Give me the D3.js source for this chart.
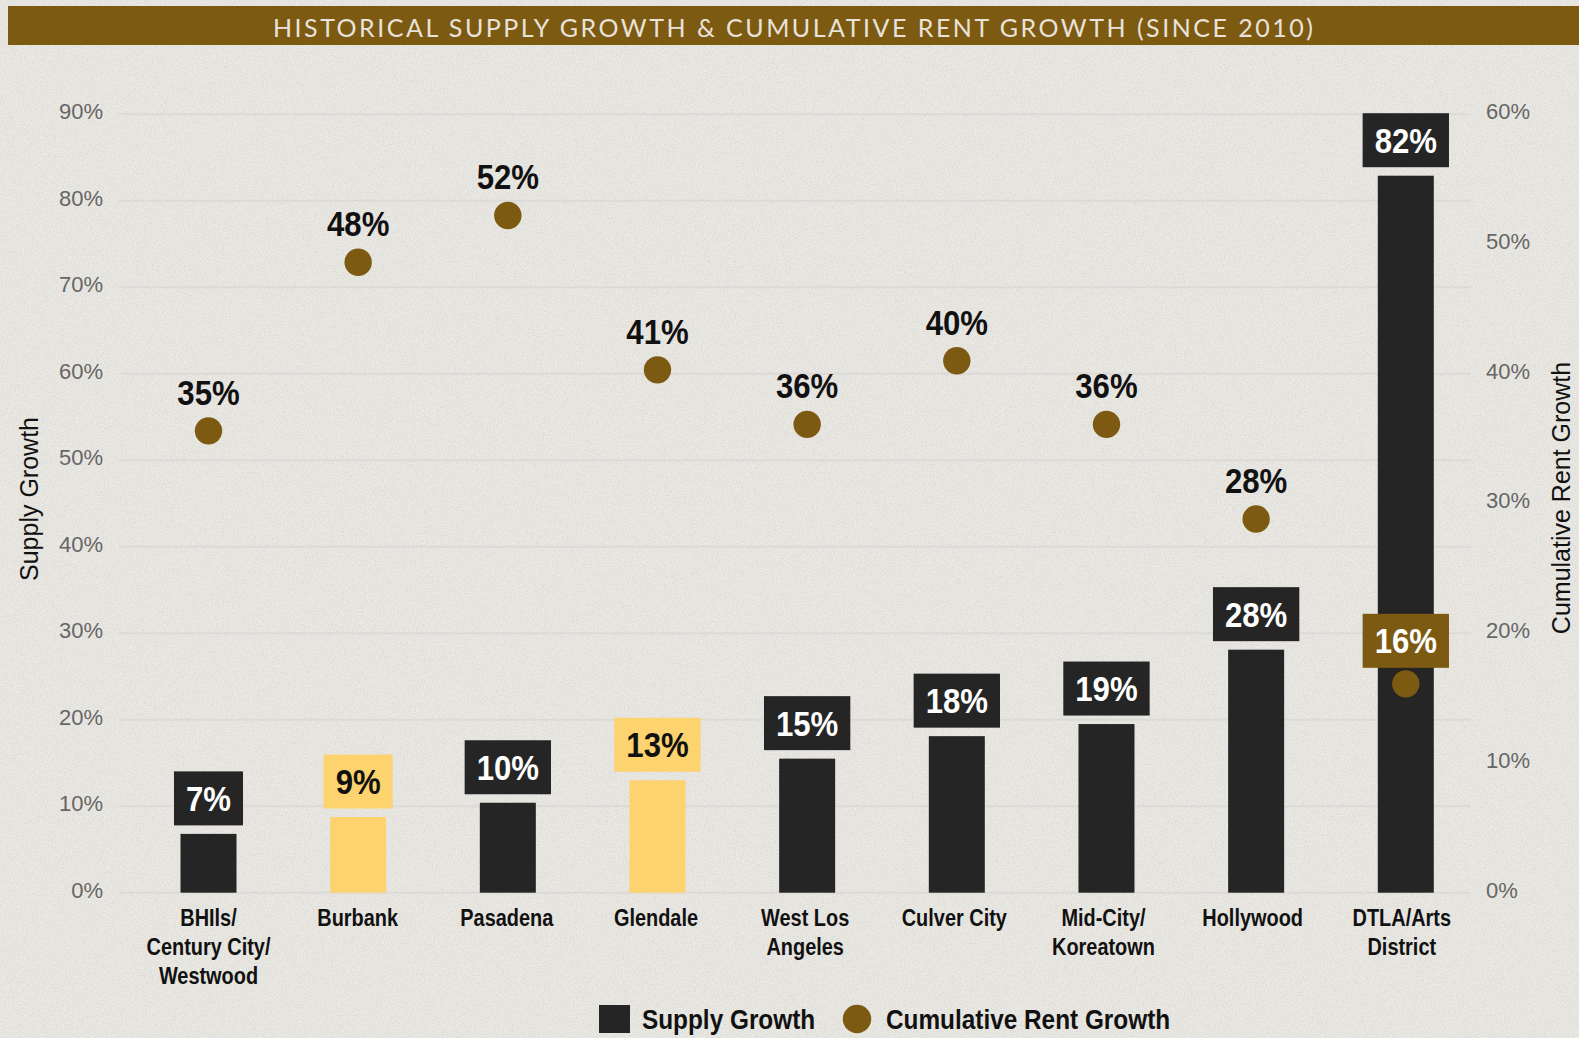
<!DOCTYPE html>
<html>
<head>
<meta charset="utf-8">
<script src="https://cdn.jsdelivr.net/npm/d3@7"></script>
<style>
  html, body { margin: 0; padding: 0; background: #ebe9e4; }
  svg { display: block; }
  .narrow { font-family: "Liberation Sans", Arial, sans-serif; font-weight: bold; }
  .tick { font-family: "Liberation Sans", Arial, sans-serif; font-size: 22px; fill: #666; }
  .axtitle { font-family: "Liberation Sans", Arial, sans-serif; font-size: 25px; fill: #111; }
</style>
</head>
<body>
<script>
var W = 1579, H = 1038;

// data
var categories = [["BHIls/", "Century City/", "Westwood"], ["Burbank"], ["Pasadena"], ["Glendale"],
  ["West Los", "Angeles"], ["Culver City"], ["Mid-City/", "Koreatown"], ["Hollywood"], ["DTLA/Arts", "District"]];
var supplyGrowth = [6.8, 8.75, 10.4, 13.0, 15.5, 18.1, 19.5, 28.1, 82.9];
var supplyLabels = ["7%", "9%", "10%", "13%", "15%", "18%", "19%", "28%", "82%"];
var rentGrowth = [35.6, 48.6, 52.2, 40.3, 36.1, 41.0, 36.1, 28.8, 16.1];
var rentLabels = ["35%", "48%", "52%", "41%", "36%", "40%", "36%", "28%", "16%"];
var highlighted = [false, true, false, true, false, false, false, false, false];
var leftTicks = [0, 10, 20, 30, 40, 50, 60, 70, 80, 90];
var rightTicks = [0, 10, 20, 30, 40, 50, 60];

var DARK = "#252525", GOLD = "#7d5a12", YELLOW = "#fdd36f";

var svg = d3.select("body").append("svg").attr("width", W).attr("height", H);

// paper texture
var defs = svg.append("defs");
var f = defs.append("filter").attr("id", "grain").attr("x", 0).attr("y", 0).attr("width", "100%").attr("height", "100%");
f.append("feTurbulence").attr("type", "fractalNoise").attr("baseFrequency", 0.9).attr("numOctaves", 3).attr("seed", 4).attr("result", "n");
f.append("feColorMatrix").attr("type", "matrix")
  .attr("values", "0 0 0 0 0.45  0 0 0 0 0.44  0 0 0 0 0.42  0 0 0 -1.6 1.0");
svg.append("rect").attr("width", W).attr("height", H).attr("fill", "#ebe9e4");
svg.append("rect").attr("width", W).attr("height", H).attr("filter", "url(#grain)").attr("opacity", 0.4);

// title bar
svg.append("rect").attr("x", 8).attr("y", 6).attr("width", W - 8).attr("height", 39).attr("fill", GOLD);
svg.append("text").attr("x", 793).attr("y", 36.5).attr("text-anchor", "middle")
  .attr("textLength", 1040).attr("lengthAdjust", "spacing")
  .style("font-family", "Lato, 'Open Sans', sans-serif").style("font-size", "25px").style("font-weight", 400)
  .attr("fill", "#e8e3da")
  .text("HISTORICAL SUPPLY GROWTH & CUMULATIVE RENT GROWTH (SINCE 2010)");

// condensed bold text: squeeze a regular bold face horizontally
function narrowText(g, cx, y, txt, size, sx, color, anchor) {
  var t = g.append("text").attr("class", "narrow")
    .attr("transform", "translate(" + cx + "," + y + ") scale(" + sx + ",1)")
    .attr("text-anchor", anchor || "middle").style("font-size", size + "px").attr("fill", color).text(txt);
  return t;
}

// scales
var x = d3.scalePoint().domain(d3.range(categories.length)).range([208.5, 1405.8]);
var yL = d3.scaleLinear().domain([0, 90]).range([892.7, 114.3]);
var yR = d3.scaleLinear().domain([0, 60]).range([892.7, 114.3]);
var barW = 56;

// grid
svg.append("g").selectAll("line").data(leftTicks).enter().append("line")
  .attr("x1", 119).attr("x2", 1471)
  .attr("y1", function(d) { return yL(d); }).attr("y2", function(d) { return yL(d); })
  .attr("stroke", "#dcdad7").attr("stroke-width", 2);

// axes
var axL = svg.append("g").attr("transform", "translate(103,0)")
  .call(d3.axisLeft(yL).tickValues(leftTicks).tickSize(0).tickPadding(0).tickFormat(function(d) { return d + "%"; }));
var axR = svg.append("g").attr("transform", "translate(1486,0)")
  .call(d3.axisRight(yR).tickValues(rightTicks).tickSize(0).tickPadding(0).tickFormat(function(d) { return d + "%"; }));
[axL, axR].forEach(function(a) {
  a.select(".domain").remove();
  a.selectAll("text").attr("class", "tick").attr("dy", "0.2em");
  a.attr("font-size", null).attr("font-family", null);
});

svg.append("text").attr("class", "axtitle").attr("text-anchor", "middle")
  .attr("transform", "translate(38,499) rotate(-90)").text("Supply Growth");
svg.append("text").attr("class", "axtitle").attr("text-anchor", "middle")
  .attr("transform", "translate(1570,498) rotate(-90)").text("Cumulative Rent Growth");

// bars
var idx = d3.range(categories.length);
svg.append("g").selectAll("rect").data(idx).enter().append("rect")
  .attr("x", function(i) { return x(i) - barW / 2; })
  .attr("y", function(i) { return yL(supplyGrowth[i]); })
  .attr("width", barW)
  .attr("height", function(i) { return yL(0) - yL(supplyGrowth[i]); })
  .attr("fill", function(i) { return highlighted[i] ? YELLOW : DARK; });

// boxed label helper
var VSX = 0.89;
function boxLabel(g, cx, bottom, txt, fill, color) {
  var t = narrowText(g, cx, bottom - 27 + 12.5, txt, 35, VSX, color);
  var w = t.node().getComputedTextLength() * VSX + 24;
  g.insert("rect", "text").attr("x", cx - w / 2).attr("y", bottom - 54).attr("width", w).attr("height", 54).attr("fill", fill);
}

var labG = svg.append("g");
idx.forEach(function(i) {
  boxLabel(labG.append("g"), x(i), yL(supplyGrowth[i]) - 8.5, supplyLabels[i],
    highlighted[i] ? YELLOW : DARK, highlighted[i] ? "#111" : "#fff");
});

// rent dots
svg.append("g").selectAll("circle").data(idx).enter().append("circle")
  .attr("cx", function(i) { return x(i); })
  .attr("cy", function(i) { return yR(rentGrowth[i]); })
  .attr("r", 13.7).attr("fill", GOLD);

idx.forEach(function(i) {
  var cy = yR(rentGrowth[i]);
  var onBar = cy > yL(supplyGrowth[i]);
  if (onBar) {
    boxLabel(labG.append("g"), x(i), cy - 16, rentLabels[i], GOLD, "#fff");
  } else {
    narrowText(labG, x(i), cy - 26, rentLabels[i], 35, VSX, "#111");
  }
});

// category labels
var catG = svg.append("g");
idx.forEach(function(i) {
  categories[i].forEach(function(line, k) {
    narrowText(catG, x(i) - i * 0.5, 926 + k * 29, line, 24, 0.83, "#111");
  });
});

// legend
var lg = svg.append("g");
lg.append("rect").attr("x", 599).attr("y", 1005).attr("width", 31).attr("height", 28).attr("fill", DARK);
narrowText(lg, 642, 1029, "Supply Growth", 28, 0.87, "#111", "start");
lg.append("circle").attr("cx", 857).attr("cy", 1019).attr("r", 14.2).attr("fill", GOLD);
narrowText(lg, 886, 1029, "Cumulative Rent Growth", 28, 0.87, "#111", "start");
</script>
</body>
</html>
